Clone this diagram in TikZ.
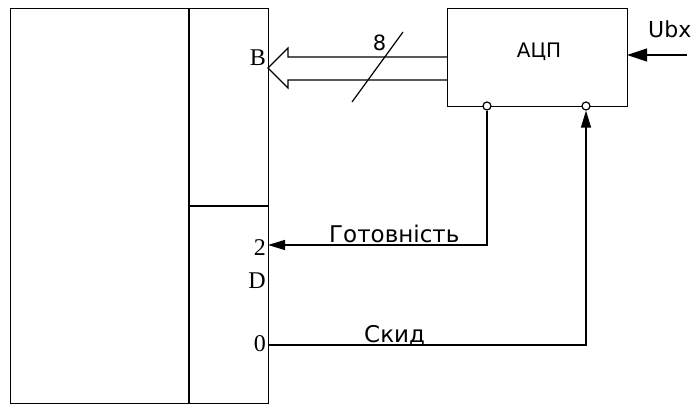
\documentclass[tikz,border=0pt]{standalone}
\usepackage{fontspec}
\setmainfont{Liberation Serif}
\newfontfamily\dv{DejaVu Sans}
\usetikzlibrary{arrows.meta}
\tikzset{
  blk/.style={draw, line width=1.2pt, rectangle, inner sep=0pt, anchor=north west},
  port/.style={draw, line width=1.2pt, circle, fill=white, inner sep=0pt, minimum size=8pt},
  wire/.style={line width=1.2pt},
  sig/.style={wire, -{Triangle[length=17pt,width=10pt]}},
  pinlbl/.style={font=\fontsize{24}{28}\selectfont, inner sep=0pt, anchor=base east},
  sanslbl/.style={font=\dv\fontsize{23}{27}\selectfont, inner sep=0pt},
}
\begin{document}
\begin{tikzpicture}[x=1pt,y=-1pt]
\useasboundingbox (0,0) rectangle (699,406);
% main block
\node[blk, minimum width=258pt, minimum height=395pt] (mcu) at (10,8) {};
\coordinate (vtop) at (189,8);
\coordinate (vbot) at (189,403);
\coordinate (hl) at (189,206);
\coordinate (hr) at (268,206);
\draw[wire] (vtop) -- (vbot);
\draw[wire] (hl) -- (hr);
% ADC block
\node[blk, minimum width=180pt, minimum height=98pt] (adc) at (447,8) {};
\node[font=\dv\fontsize{20}{24}\selectfont, inner sep=0pt, anchor=base] (adct) at (539,57.5) {АЦП};
% bus arrow
\coordinate (bt) at (447,57);
\coordinate (bb) at (447,80);
\draw[wire, line join=miter] (bt) -- (288,57) -- (288,48) -- (268,68) -- (288,88) -- (288,80) -- (bb);
\coordinate (s1) at (352,102);
\coordinate (s2) at (403,32);
\draw[wire] (s1) -- (s2);
\node[font=\dv\fontsize{21}{25}\selectfont, inner sep=0pt, anchor=base] (n8) at (379.5,50.5) {8};
% Ubx input
\coordinate (uin) at (687,55);
\coordinate (uend) at (627,55);
\draw[wire, -{Triangle[length=20pt,width=13pt]}] (uin) -- (uend);
\node[font=\dv\fontsize{22}{26}\selectfont, inner sep=0pt, anchor=base west] (ubx) at (648,37.5) {Ubx};
% ports
\node[port] (p1) at (487,106) {};
\node[port] (p2) at (586,106) {};
\coordinate (in2) at (268,245);
\coordinate (in0) at (268,345);
\draw[sig] (p1.south) |- (in2);
\draw[sig] (in0) -| (p2.south);
\node[sanslbl, anchor=base west] (rdy) at (329,243) {Готовність};
\node[sanslbl, anchor=base west] (rst) at (364,342) {Скид};
% pin labels
\node[pinlbl] (lb) at (266,66) {B};
\node[pinlbl] (l2) at (266,256) {2};
\node[pinlbl] (ld) at (266,288) {D};
\node[pinlbl] (l0) at (266,351) {0};
\end{tikzpicture}
\end{document}
